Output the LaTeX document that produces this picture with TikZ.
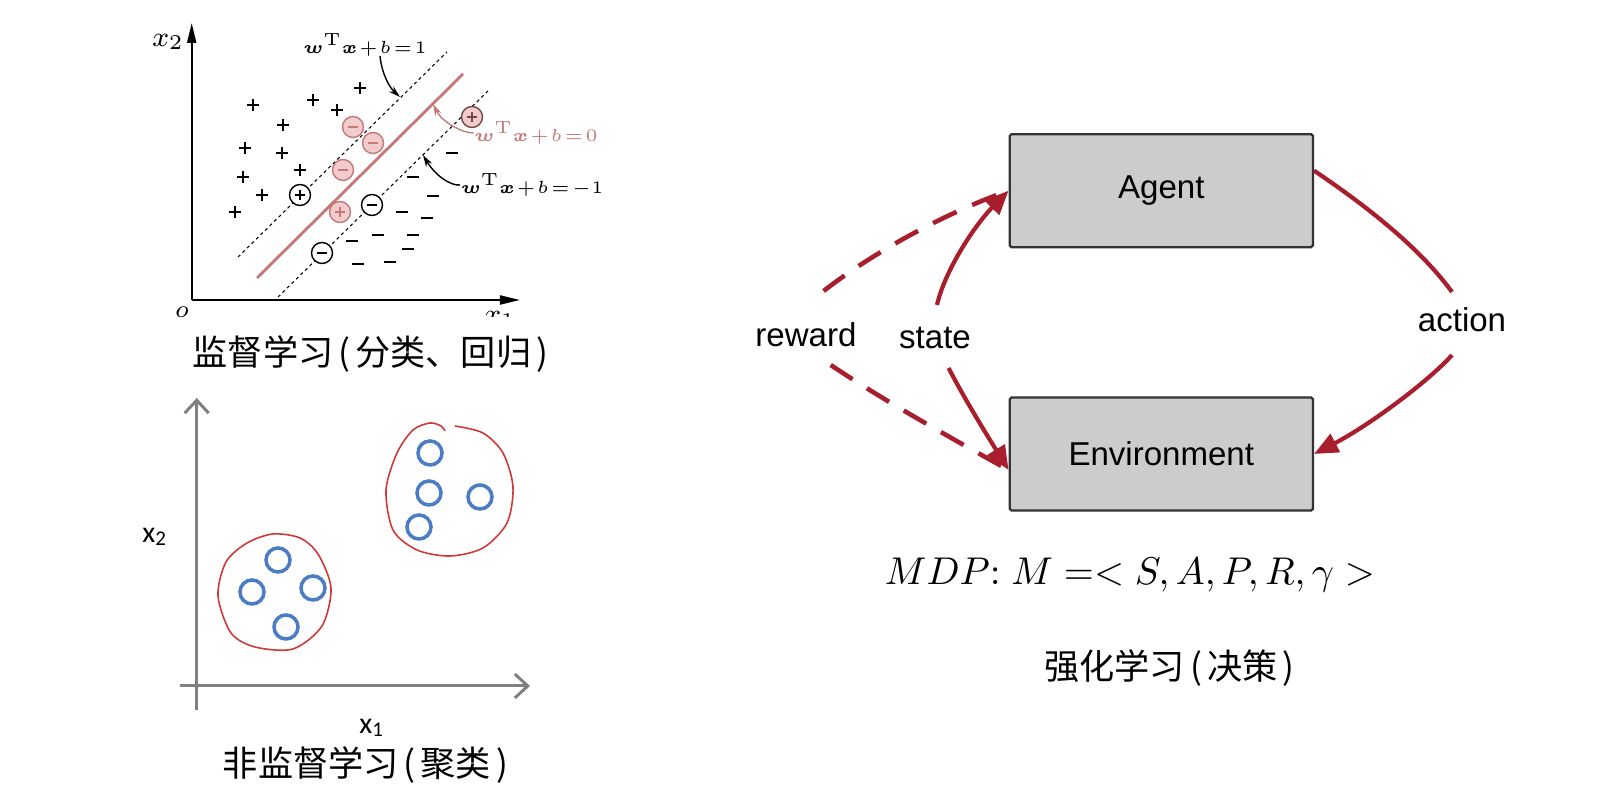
\RequirePackage{fix-cm}
\documentclass[tikz,border=0pt]{standalone}
\usepackage{amsmath}
\usepackage{amssymb}
\usepackage[no-math]{fontspec}
\setmainfont{Liberation Sans}
\newfontfamily\cjk{Noto Sans CJK SC}
\newfontfamily\calib{Carlito}
\usepackage{tikz}
\usetikzlibrary{arrows.meta}
\definecolor{rlred}{RGB}{168,30,45}
\definecolor{svmpink}{RGB}{196,120,120}
\definecolor{svmfill}{RGB}{242,204,204}
\definecolor{blobred}{RGB}{208,56,56}
\definecolor{dotblue}{RGB}{74,125,196}
\definecolor{boxgray}{RGB}{204,204,204}
\newcommand{\tightmath}{\medmuskip=1.5mu\thickmuskip=2mu}
\newcommand{\lpar}{\makebox[0.22cm]{(}}
\newcommand{\rpar}{\makebox[0.22cm]{)}}
\tikzset{
  pmark/.style={minimum size=0.12cm, inner sep=0pt, path picture={\draw[line width=0.65pt] (path picture bounding box.west) -- (path picture bounding box.east) (path picture bounding box.north) -- (path picture bounding box.south);}},
  mmark/.style={minimum size=0.12cm, inner sep=0pt, path picture={\draw[line width=0.65pt] (path picture bounding box.west) -- (path picture bounding box.east);}},
  ringp/.style={circle, draw=black, fill=white, line width=0.4pt, minimum size=0.21cm, inner sep=0pt, path picture={\draw[line width=0.55pt] ([xshift=-0.05cm]path picture bounding box.center) -- ([xshift=0.05cm]path picture bounding box.center) ([yshift=-0.05cm]path picture bounding box.center) -- ([yshift=0.05cm]path picture bounding box.center);}},
  ringm/.style={circle, draw=black, fill=white, line width=0.4pt, minimum size=0.21cm, inner sep=0pt, path picture={\draw[line width=0.55pt] ([xshift=-0.05cm]path picture bounding box.center) -- ([xshift=0.05cm]path picture bounding box.center);}},
  pinkring/.style={fill=svmfill, draw=svmpink},
  margin/.style={line width=0.3pt, dash pattern=on 0.9pt off 0.9pt},
  hyper/.style={svmpink, line width=0.8pt},
  svmaxis/.style={line width=0.6pt, -{Triangle[length=0.2cm,width=0.09cm]}},
  axlbl/.style={font=\fontsize{8}{9}\selectfont, inner sep=0pt},
  lbl/.style={font=\fontsize{5}{6}\selectfont\tightmath, inner sep=0pt},
  lblarrow/.style={line width=0.4pt, -{Stealth[length=0.12cm,width=0.07cm]}},
  gaxis/.style={black!50, line width=0.85pt, -{Straight Barb[length=0.13cm,width=0.24cm]}},
  gaxlbl/.style={font=\calib\fontsize{8.5}{10}\selectfont, inner sep=0pt},
  dot/.style={circle, draw=dotblue, line width=1pt, minimum size=0.24cm, inner sep=0pt},
  blob/.style={blobred, line width=0.45pt},
  rlbox/.style={rectangle, draw=black!80, fill=boxgray, line width=0.65pt, rounded corners=0.5pt, minimum width=3.03cm, minimum height=1.13cm, font=\fontsize{9.4}{11}\selectfont},
  rltext/.style={font=\fontsize{9.4}{11}\selectfont},
  rlarrow/.style={rlred, line width=1.2pt, -{Triangle[length=0.24cm,width=0.2cm]}},
  rlline/.style={rlred, line width=1.2pt},
  rldash/.style={rlred, line width=1.3pt, dash pattern=on 0.26cm off 0.17cm},
  caption/.style={font=\cjk\fontsize{10}{12}\selectfont},
}

\begin{document}
\begin{tikzpicture}[x=0.01cm, y=-0.01cm]
\useasboundingbox (0,0) rectangle (1608,804);

\coordinate (o) at (191.7,300);
\draw[svmaxis] (o) -- (191.7,23);
\draw[svmaxis] (o) -- (520,300);
\node[axlbl] (x2) at (168,42) {$x_2$};
\node[axlbl, font=\fontsize{7}{8}\selectfont] (orig) at (182,312) {$o$};
\begin{scope}
\clip (150,0) rectangle (620,317);
\node[axlbl, anchor=north] (x1) at (500,311) {$x_1$};
\end{scope}

\coordinate (up1) at (238,257);
\coordinate (up2) at (447,52);
\coordinate (mid1) at (257,278);
\coordinate (mid2) at (463,74);
\coordinate (lo1) at (278,297);
\coordinate (lo2) at (488,91);
\draw[margin] (up1) -- (up2);
\draw[hyper] (mid1) -- (mid2);
\draw[margin] (lo1) -- (lo2);

\foreach \x/\y [count=\i] in {360/88,253/105,313/100,337/110,283/125,245/148,282/153,300/170,243/177,262/195,235/212}
  \node[pmark] (p\i) at (\x,\y) {};
\foreach \x/\y [count=\i] in {452/153,413/177,433/196,402/212,427/218,352/241,378/235,413/235,408/249,358/264,390/262}
  \node[mmark] (m\i) at (\x,\y) {};

\node[ringp] (sp1) at (300,195) {};
\node[ringm] (sm1) at (372,205) {};
\node[ringm] (sm2) at (322,253) {};
\node[ringm, pinkring] (sm3) at (353,127) {};
\node[ringm, pinkring] (sm4) at (373,143) {};
\node[ringm, pinkring] (sm5) at (343,170) {};
\node[ringp, pinkring] (sp2) at (340,212) {};
\node[ringp, pinkring, draw=svmpink!60!black] (sp3) at (472,117) {};

\node[lbl] (lab1) at (365,45) {$\boldsymbol{w}^{\mathrm{T}}\boldsymbol{x}+b=1$};
\node[lbl, text=svmpink] (lab0) at (536,133) {$\boldsymbol{w}^{\mathrm{T}}\boldsymbol{x}+b=0$};
\node[lbl] (labm) at (532,185) {$\boldsymbol{w}^{\mathrm{T}}\boldsymbol{x}+b=-1$};
\coordinate (tip1) at (400,97);
\coordinate (tip0) at (433,104);
\coordinate (tipm) at (423,155);
\draw[lblarrow] (380,56) .. controls (382,75) and (390,88) .. (tip1);
\draw[lblarrow, svmpink] (lab0.west) .. controls (462,133) and (442,122) .. (tip0);
\draw[lblarrow] (labm.west) .. controls (450,186) and (435,175) .. (tipm);

\node[caption] (svmcap) at (373,354) {监督学习\lpar 分类、回归\rpar};

\draw[gaxis] (196.7,710) -- (196.7,398);
\draw[gaxis] (180,686) -- (530,686);
\node[gaxlbl] (cx2) at (155,537) {x\textsubscript{2}};
\node[gaxlbl] (cx1) at (372,728) {x\textsubscript{1}};

\foreach \x/\y [count=\i] in {278/560,252/592,313/588,286/627,430/453,429/493,480/497,419/527}
  \node[dot] (c\i) at (\x,\y) {};

\draw[blob] plot[smooth cycle] coordinates {(273,534) (300,538) (318,554) (331,588) (322,626) (293,649) (255,647) (231,633) (218,596) (226,562) (247,543)};
\draw[blob] plot[smooth] coordinates {(455,426) (483,433) (503,453) (513,487) (507,523) (483,548) (450,556) (417,550) (393,530) (386,490) (397,453) (413,430) (430,423) (441,426) (445,431)};

\node[caption] (clustcap) at (368,765) {非监督学习\lpar 聚类\rpar};

\node[rlbox] (agent) at (1161.3,190.7) {Agent};
\node[rlbox] (env) at (1161.3,454) {Environment};
\node[rltext] (reward) at (806,335) {reward};
\node[rltext] (state) at (935,338) {state};
\node[rltext] (action) at (1462,320) {action};

\coordinate (stup) at (937,305);
\coordinate (stdown) at (948.6,368);
\coordinate (rwup) at (823.6,291);
\coordinate (rwdown) at (830.7,365);
\coordinate (acup) at (1452,292);
\coordinate (acdown) at (1452,355);

\draw[rldash] (rwup) .. controls (870,255) and (940,215) .. (agent.west);
\draw[rldash] (rwdown) .. controls (880,398) and (940,432) .. ([yshift=-0.16cm]env.west);
\draw[rlarrow] (stup) .. controls (945,270) and (975,225) .. (agent.west);
\draw[rlarrow] (stdown) .. controls (965,400) and (990,440) .. ([yshift=-0.16cm]env.west);
\draw[rlline] ([yshift=0.2cm]agent.east) .. controls (1380,215) and (1425,255) .. (acup);
\draw[rlarrow] (acdown) .. controls (1430,380) and (1370,425) .. (env.east);

\node (mdp) at (1130,575) {\fontsize{11}{13}\selectfont $MDP{:}\;M\;{=}{<}\;S,A,P,R,\gamma\;{>}$};
\node[caption] (rlcap) at (1172,668) {强化学习\lpar 决策\rpar};
\end{tikzpicture}
\end{document}
